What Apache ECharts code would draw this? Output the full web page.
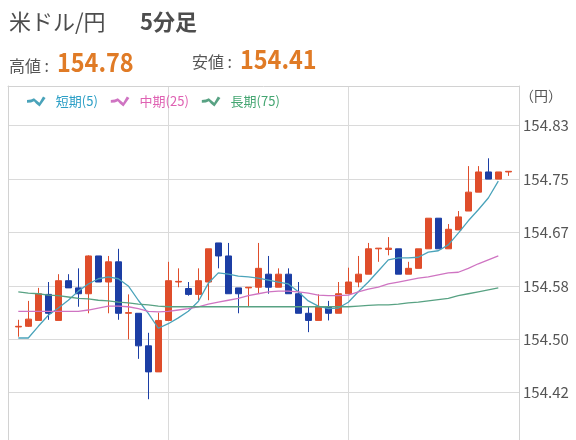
<!DOCTYPE html>
<html><head><meta charset="utf-8">
<script src="https://cdn.jsdelivr.net/npm/echarts@6/dist/echarts.min.js"></script>
<style>html,body{margin:0;padding:0;background:#fff;}#chart{width:576px;height:440px;}</style>
</head><body><div id="chart"></div>
<script>
// 5-minute candles, oldest first
const opens  = [154.521,154.522,154.531,154.571,154.531,154.592,154.581,154.572,154.630,154.590,
                154.621,154.542,154.542,154.492,154.452,154.531,154.590,154.580,154.571,154.590,
                154.650,154.630,154.581,154.581,154.582,154.602,154.582,154.602,154.572,154.542,
                154.531,154.552,154.542,154.572,154.590,154.602,154.641,154.640,154.641,154.602,
                154.611,154.641,154.688,154.641,154.670,154.699,154.728,154.759,154.748,154.759];
const closes = [154.522,154.533,154.572,154.542,154.592,154.581,154.572,154.630,154.590,154.621,
                154.542,154.543,154.492,154.452,154.531,154.592,154.591,154.571,154.592,154.641,
                154.630,154.572,154.572,154.582,154.611,154.582,154.602,154.572,154.542,154.531,
                154.552,154.542,154.572,154.590,154.602,154.641,154.642,154.642,154.602,154.611,
                154.641,154.688,154.641,154.671,154.690,154.728,154.759,154.748,154.759,154.760];
const lows   = [154.506,154.521,154.531,154.532,154.531,154.581,154.552,154.542,154.590,154.542,
                154.532,154.502,154.472,154.410,154.452,154.531,154.582,154.569,154.562,154.562,
                154.611,154.572,154.542,154.552,154.572,154.572,154.582,154.572,154.542,154.513,
                154.531,154.531,154.542,154.572,154.582,154.602,154.621,154.631,154.602,154.602,
                154.611,154.641,154.641,154.641,154.670,154.699,154.728,154.748,154.748,154.753];
const highs  = [154.532,154.561,154.581,154.590,154.602,154.602,154.611,154.631,154.630,154.630,
                154.641,154.571,154.542,154.512,154.543,154.621,154.611,154.590,154.611,154.641,
                154.650,154.650,154.581,154.582,154.650,154.630,154.611,154.611,154.590,154.552,
                154.571,154.561,154.590,154.612,154.630,154.650,154.642,154.659,154.641,154.621,
                154.641,154.688,154.688,154.679,154.699,154.768,154.768,154.780,154.759,154.760];
// moving averages
const maShort = [154.504,154.504,154.522,154.539,154.550,154.562,154.576,154.587,154.595,154.598,
                 154.595,154.584,154.562,154.542,154.519,154.526,154.535,154.545,154.560,154.588,
                 154.604,154.602,154.599,154.598,154.596,154.593,154.590,154.587,154.575,154.561,
                 154.553,154.549,154.550,154.559,154.575,154.590,154.607,154.624,154.627,154.627,
                 154.628,154.636,154.638,154.647,154.665,154.684,154.701,154.719,154.745];
const maMid   = [154.545,154.545,154.545,154.545,154.545,154.545,154.545,154.547,154.550,154.553,
                 154.553,154.552,154.549,154.545,154.544,154.545,154.547,154.549,154.552,154.556,
                 154.559,154.562,154.565,154.569,154.572,154.575,154.576,154.576,154.575,154.573,
                 154.570,154.569,154.569,154.570,154.575,154.579,154.582,154.587,154.590,154.593,
                 154.596,154.598,154.601,154.604,154.605,154.611,154.618,154.624,154.630];
const maLong  = [154.575,154.573,154.572,154.570,154.569,154.567,154.565,154.564,154.562,154.561,
                 154.559,154.558,154.556,154.555,154.553,154.552,154.552,154.552,154.552,154.552,
                 154.552,154.552,154.552,154.552,154.552,154.552,154.552,154.552,154.552,154.552,
                 154.552,154.552,154.552,154.552,154.553,154.554,154.555,154.555,154.556,154.558,
                 154.559,154.561,154.563,154.565,154.569,154.572,154.575,154.578,154.581];
const yTicks = [154.42, 154.502, 154.584, 154.666, 154.748, 154.83];
const xSplits = [15, 33];
const seriesNames = ['短期(5)', '中期(25)', '長期(75)'];
const highLabel = '154.78';
const lowLabel = '154.41';

const chart = echarts.init(document.getElementById('chart'));
const FONT = '"Noto Sans CJK JP", "Noto Sans", sans-serif';
const candleData = opens.map((o, i) => [i, o, closes[i], lows[i], highs[i]]);
const toXY = arr => arr.map((v, i) => [i, v]);
const lineColors = ['#4aa3ba', '#cf74c2', '#58a283'];
const textColors = ['#2c9fc6', '#df62b3', '#45a672'];
const wave = 'path://M0,3.4 L4,3 L7,1.8 L10,4.2 L12.4,6.2 L16,0 L18.6,1.6 L12.6,10 L9.2,7.2 L7,4.8 L4,6 L0,6.2 Z';
const frameColor = '#d2d2d2';
const Y_MIN = 154.3474, Y_MAX = 154.891;

chart.setOption({
  animation: false,
  backgroundColor: '#fff',
  textStyle: { fontFamily: FONT },
  graphic: [
    { type: 'text', left: 9, top: 11, style: { text: '米ドル/円', font: '22px ' + FONT, fill: '#4d4d4d' } },
    { type: 'text', left: 140, top: 11, style: { text: '5分足', font: 'bold 22px ' + FONT, fill: '#4d4d4d' } },
    { type: 'text', left: 9, top: 58, style: { text: '高値 :', font: '16px ' + FONT, fill: '#555' } },
    { type: 'text', left: 57, top: 49, scaleX: 0.9, style: { text: highLabel, font: 'bold 26px ' + FONT, fill: '#e07b26' } },
    { type: 'text', left: 192, top: 54, style: { text: '安値 :', font: '16px ' + FONT, fill: '#555' } },
    { type: 'text', left: 240, top: 46, scaleX: 0.9, style: { text: lowLabel, font: 'bold 26px ' + FONT, fill: '#e07b26' } },
    { type: 'text', left: 520, top: 89, style: { text: '（円）', font: '14px ' + FONT, fill: '#555' } }
  ],
  legend: {
    left: 22, top: 90,
    itemWidth: 19, itemHeight: 10, itemGap: 13,
    textStyle: { fontSize: 13, fontFamily: FONT, padding: [0, 0, 0, 5] },
    data: seriesNames.map((n, k) => ({ name: n, icon: wave, itemStyle: { color: lineColors[k], borderWidth: 0 }, textStyle: { color: textColors[k] } }))
  },
  grid: { left: 8, right: 57, top: 86, bottom: 0, show: false, containLabel: false },
  xAxis: {
    type: 'value', min: -1.03, max: 50.07, position: 'top',
    axisLine: { show: true, onZero: false, lineStyle: { color: frameColor, width: 1 } }, axisLabel: { show: false },
    axisTick: { show: false, customValues: xSplits },
    splitLine: { show: true, lineStyle: { color: '#dadada', width: 1 } }
  },
  yAxis: [
    {
      type: 'value', position: 'right', min: Y_MIN, max: Y_MAX,
      axisLine: { show: true, onZero: false, lineStyle: { color: frameColor, width: 1 } },
      axisTick: { show: false, customValues: yTicks },
      axisLabel: { customValues: yTicks, formatter: v => v.toFixed(2), color: '#555', fontSize: 15, margin: 4, fontFamily: FONT },
      splitLine: { show: true, lineStyle: { color: '#dadada', width: 1 } }
    },
    {
      type: 'value', position: 'left', min: Y_MIN, max: Y_MAX,
      axisLine: { show: true, onZero: false, lineStyle: { color: frameColor, width: 1 } },
      axisTick: { show: false }, axisLabel: { show: false }, splitLine: { show: false }
    }
  ],
  series: [
    {
      type: 'candlestick', name: '5分足', data: candleData, barWidth: 7,
      encode: { x: 0, y: [1, 2, 3, 4] },
      itemStyle: { color: '#df4d2b', color0: '#1c3ea4', borderColor: '#df4d2b', borderColor0: '#1c3ea4', borderWidth: 1 }
    },
    { type: 'line', name: seriesNames[0], data: toXY(maShort), showSymbol: false, symbol: 'none', lineStyle: { color: lineColors[0], width: 1.3 }, itemStyle: { color: lineColors[0] } },
    { type: 'line', name: seriesNames[1], data: toXY(maMid), showSymbol: false, symbol: 'none', lineStyle: { color: lineColors[1], width: 1.3 }, itemStyle: { color: lineColors[1] } },
    { type: 'line', name: seriesNames[2], data: toXY(maLong), showSymbol: false, symbol: 'none', lineStyle: { color: lineColors[2], width: 1.3 }, itemStyle: { color: lineColors[2] } }
  ]
});
</script>
</body></html>
